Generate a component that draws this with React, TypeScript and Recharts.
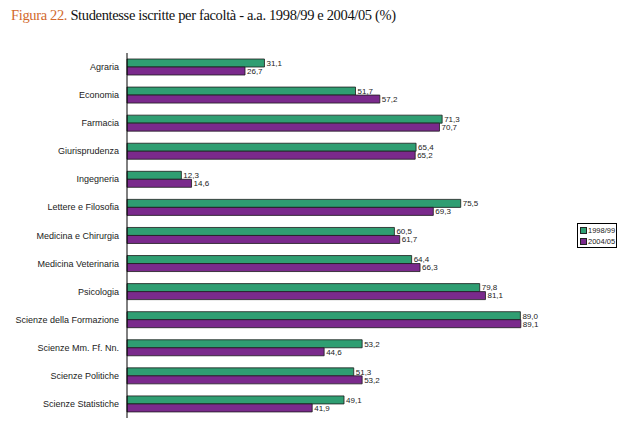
import { Bar, BarChart, LabelList, XAxis, YAxis } from "recharts";

const faculties = [
  "Agraria",
  "Economia",
  "Farmacia",
  "Giurisprudenza",
  "Ingegneria",
  "Lettere e Filosofia",
  "Medicina e Chirurgia",
  "Medicina Veterinaria",
  "Psicologia",
  "Scienze della Formazione",
  "Scienze Mm. Ff. Nn.",
  "Scienze Politiche",
  "Scienze Statistiche",
];

const share1998 = [31.1, 51.7, 71.3, 65.4, 12.3, 75.5, 60.5, 64.4, 79.8, 89.0, 53.2, 51.3, 49.1];
const share2004 = [26.7, 57.2, 70.7, 65.2, 14.6, 69.3, 61.7, 66.3, 81.1, 89.1, 44.6, 53.2, 41.9];

const seriesNames = ["1998/99", "2004/05"];

const colors = {
  green: "#2f9e72",
  purple: "#7a2a8c",
  edge: "#1c1c1c",
  orange: "#d2692d",
};

const sans = "Liberation Sans, Arial, sans-serif";

const data = faculties.map((name, i) => ({
  name,
  a: share1998[i],
  b: share2004[i],
}));

const fmt = (v: unknown) => Number(v).toFixed(1).replace(".", ",");

const labelStyle = { fontSize: 8, fill: "#222", fontFamily: sans };

// plain one-line category label, no wrapping
function CategoryTick(props: any) {
  const { x, y, payload } = props;
  return (
    <text x={x} y={y} dy={3} textAnchor="end" fontSize={9} fill="#222" fontFamily={sans}>
      {payload.value}
    </text>
  );
}

export default function App() {
  return (
    <div
      style={{
        position: "absolute",
        left: 0,
        top: 0,
        width: 632,
        height: 431,
        background: "#fff",
        overflow: "hidden",
      }}
    >
      <div
        style={{
          position: "absolute",
          left: 11,
          top: 7,
          fontFamily: "Liberation Serif, serif",
          fontSize: 14.5,
          letterSpacing: -0.35,
          color: "#111",
          whiteSpace: "nowrap",
        }}
      >
        <span style={{ color: colors.orange }}>Figura 22.</span> Studentesse iscritte per
        facoltà - a.a. 1998/99 e 2004/05 (%)
      </div>

      <div style={{ position: "absolute", left: 0, top: 0 }}>
        <BarChart
          width={632}
          height={431}
          data={data}
          layout="vertical"
          margin={{ top: 53, right: 63, bottom: 13, left: 0 }}
          barCategoryGap={6}
          barGap={0}
        >
          <XAxis type="number" domain={[0, 100]} hide />
          <YAxis
            type="category"
            dataKey="name"
            width={127}
            stroke="#000"
            tickLine={false}
            tickSize={6}
            tickMargin={2}
            tick={<CategoryTick />}
            interval={0}
          />
          <Bar
            dataKey="a"
            name={seriesNames[0]}
            fill={colors.green}
            stroke={colors.edge}
            strokeWidth={0.8}
            barSize={8}
            isAnimationActive={false}
          >
            <LabelList dataKey="a" position="right" offset={2} formatter={fmt} style={labelStyle} />
          </Bar>
          <Bar
            dataKey="b"
            name={seriesNames[1]}
            fill={colors.purple}
            stroke={colors.edge}
            strokeWidth={0.8}
            barSize={8}
            isAnimationActive={false}
          >
            <LabelList dataKey="b" position="right" offset={2} formatter={fmt} style={labelStyle} />
          </Bar>
        </BarChart>
      </div>

      <div
        style={{
          position: "absolute",
          left: 577,
          top: 223,
          width: 40,
          height: 25,
          border: "1px solid #000",
          fontFamily: sans,
          fontSize: 7.5,
          color: "#222",
          padding: "1px 0 0 2px",
          boxSizing: "border-box",
          lineHeight: "11px",
          whiteSpace: "nowrap",
        }}
      >
        {seriesNames.map((s, i) => (
          <div key={s} style={{ display: "flex", alignItems: "center", gap: 1 }}>
            <span
              style={{
                flexShrink: 0,
                display: "inline-block",
                width: 5,
                height: 5,
                background: i === 0 ? colors.green : colors.purple,
                border: "1px solid #222",
              }}
            />
            {s}
          </div>
        ))}
      </div>
    </div>
  );
}
